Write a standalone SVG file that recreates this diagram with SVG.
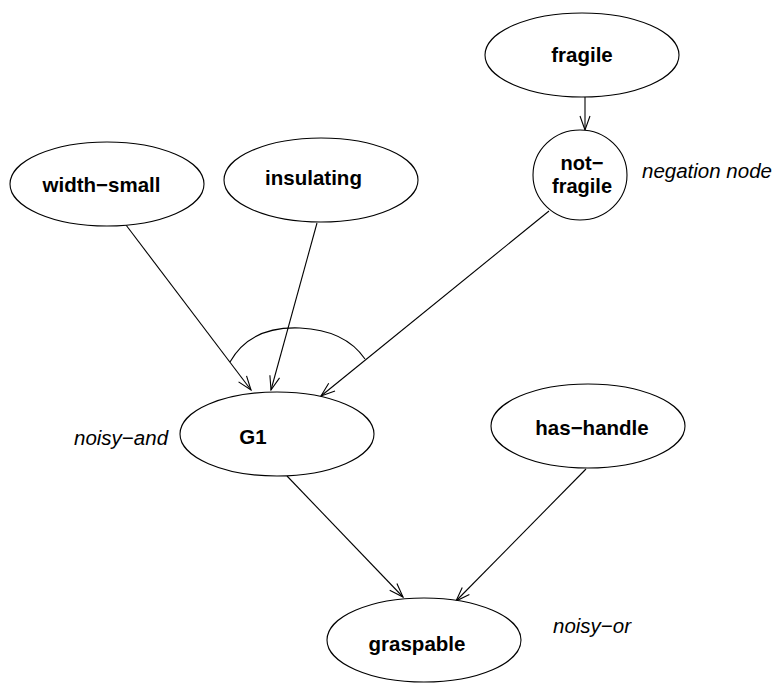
<svg xmlns="http://www.w3.org/2000/svg" width="778" height="683" viewBox="0 0 778 683">
  <style>
    .node { fill: #ffffff; stroke: #000000; stroke-width: 1.1; }
    .lbl { font-family: "Liberation Sans", Arial, sans-serif; font-size: 20.5px; font-weight: bold; text-anchor: middle; fill: #000000; }
    .note { font-family: "Liberation Sans", Arial, sans-serif; font-size: 20.5px; font-style: italic; fill: #000000; }
    .edge { fill: none; stroke: #000000; stroke-width: 1.1; }
  </style>
  <defs>
    <!-- open V arrowhead -->
    <marker id="ah" viewBox="-16 -7 17 14" refX="0" refY="0" markerWidth="17" markerHeight="14" markerUnits="userSpaceOnUse" orient="auto">
      <path d="M-14,-5 L0,0 L-14,5" fill="none" stroke="#000000" stroke-width="1.1"/>
    </marker>
  </defs>
  <rect width="778" height="683" fill="#ffffff"/>

  <g id="connectors">
    <line class="edge" x1="585" y1="97" x2="585" y2="130" marker-end="url(#ah)"/>
    <line class="edge" x1="126" y1="225" x2="251" y2="390" marker-end="url(#ah)"/>
    <line class="edge" x1="317" y1="223" x2="271" y2="390" marker-end="url(#ah)"/>
    <line class="edge" x1="549" y1="211" x2="321" y2="396" marker-end="url(#ah)"/>
    <line class="edge" x1="287" y1="476" x2="403" y2="597" marker-end="url(#ah)"/>
    <line class="edge" x1="586" y1="469" x2="456" y2="601" marker-end="url(#ah)"/>
    <!-- AND arc over the incoming links of G1 -->
    <path class="edge" d="M230,362 Q250,326 300,328 Q345,330 365,359"/>
  </g>

  <g id="fragile">
    <ellipse class="node" cx="582" cy="55" rx="97" ry="42"/>
    <text class="lbl" x="582" y="62">fragile</text>
  </g>
  <g id="not-fragile">
    <ellipse class="node" cx="580" cy="175" rx="47" ry="45"/>
    <text class="lbl" x="582" y="170" style="font-size:20px">not−</text>
    <text class="lbl" x="582" y="193" style="font-size:20px">fragile</text>
  </g>
  <g id="width-small">
    <ellipse class="node" cx="107" cy="184" rx="97" ry="42"/>
    <text class="lbl" x="101.5" y="192">width−small</text>
  </g>
  <g id="insulating">
    <ellipse class="node" cx="321" cy="180" rx="97" ry="42"/>
    <text class="lbl" x="313.5" y="185">insulating</text>
  </g>
  <g id="G1">
    <ellipse class="node" cx="277" cy="434" rx="97" ry="42"/>
    <text class="lbl" x="253" y="444">G1</text>
  </g>
  <g id="has-handle">
    <ellipse class="node" cx="588" cy="426" rx="97" ry="42"/>
    <text class="lbl" x="592" y="435">has−handle</text>
  </g>
  <g id="graspable">
    <ellipse class="node" cx="424" cy="640" rx="97" ry="42"/>
    <text class="lbl" x="417" y="651">graspable</text>
  </g>

  <g id="notes">
    <text class="note" x="642" y="178">negation node</text>
    <text class="note" x="74" y="445">noisy−and</text>
    <text class="note" x="553" y="633">noisy−or</text>
  </g>
</svg>
